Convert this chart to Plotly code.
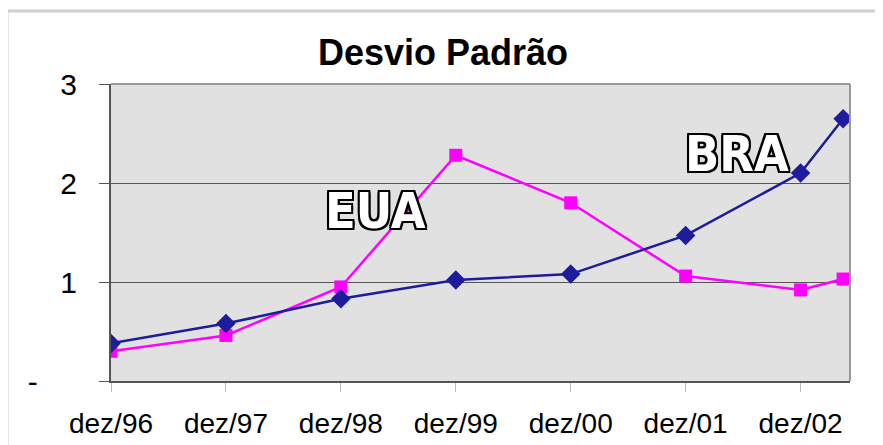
import plotly.graph_objects as go

categories = ["dez/96", "dez/97", "dez/98", "dez/99", "dez/00", "dez/01", "dez/02"]
x_positions = [0, 1, 2, 3, 4, 5, 6, 6.37]
bra_values = [0.38, 0.58, 0.83, 1.02, 1.08, 1.47, 2.10, 2.65]
eua_values = [0.30, 0.46, 0.95, 2.28, 1.80, 1.06, 0.92, 1.03]
y_tickvals = [0, 1, 2, 3]
y_ticktext = ["-" + "\u00a0" * 4 + "\u2009", "1", "2", "3"]

# page offset of the figure (browser default body margin)
OFF = 8
W, H = 883 - OFF, 445 - OFF
PL, PR, PT, PB = 111, 850, 84, 381  # plot area in page pixels

fig = go.Figure()
fig.add_trace(go.Scatter(
    x=x_positions, y=eua_values, mode="lines+markers", name="EUA",
    line=dict(color="#ff00ff", width=2.5),
    marker=dict(symbol="square", size=13, color="#ff00ff"),
))
fig.add_trace(go.Scatter(
    x=x_positions, y=bra_values, mode="lines+markers", name="BRA",
    line=dict(color="#1c1c9c", width=2.5),
    marker=dict(symbol="diamond", size=15, color="#1c1c9c"),
))

outline = ("2px 0 0 #000, -2px 0 0 #000, 0 2px 0 #000, 0 -2px 0 #000, "
           "2px 2px 0 #000, -2px -2px 0 #000, 2px -2px 0 #000, -2px 2px 0 #000")
for txt, ax, ay in [("EUA", 2.30, 1.72), ("BRA", 5.45, 2.29)]:
    fig.add_annotation(
        x=ax, y=ay, xref="x", yref="y", text=txt, showarrow=False,
        font=dict(family="DejaVu Sans Condensed, Liberation Sans", size=50, color="white",
                  weight="bold", shadow=outline),
    )

pw, ph = PR - PL, PB - PT
fig.update_layout(
    width=W, height=H,
    margin=dict(l=PL - OFF, r=W - (PR - OFF), t=PT - OFF, b=H - (PB - OFF), autoexpand=False),
    paper_bgcolor="white",
    plot_bgcolor="#e1e1e1",
    showlegend=False,
    title=dict(text="<b>Desvio Padrão</b>", x=(443 - OFF) / W, xref="container",
               xanchor="center", y=1 - (52 - OFF) / H, yref="container", yanchor="middle",
               font=dict(family="Liberation Sans", size=36, color="black")),
    font=dict(family="Liberation Sans", color="black"),
    shapes=[dict(type="rect", xref="paper", yref="paper",
                 x0=(7 - PL) / pw, x1=(900 - PL) / pw,
                 y0=(PB - 470) / ph, y1=(PB - 11) / ph,
                 line=dict(color="#d0d0d0", width=3), layer="below")],
)

fig.update_xaxes(
    range=[0, 6.43], tickvals=list(range(len(categories))), ticktext=categories,
    showgrid=False, zeroline=False,
    showline=True, linecolor="#555555", linewidth=2, mirror=False,
    ticks="outside", ticklen=9, tickcolor="#bbbbbb", tickwidth=1,
    tickfont=dict(size=28, color="black"), ticklabelstandoff=7,
)
fig.update_yaxes(
    range=[0, 3], tickvals=y_tickvals, ticktext=y_ticktext,
    showgrid=True, gridcolor="#555555", gridwidth=1, zeroline=False,
    showline=True, linecolor="#555555", linewidth=2,
    ticks="outside", ticklen=10, tickcolor="#555555", tickwidth=1,
    tickfont=dict(size=30, color="black"), ticklabelstandoff=16,
)
fig.add_shape(type="line", xref="paper", yref="paper", x0=1, x1=1, y0=0, y1=1,
              line=dict(color="#999999", width=2))
fig.add_shape(type="line", xref="paper", yref="paper", x0=0, x1=1, y0=1, y1=1,
              line=dict(color="#999999", width=2))

fig.write_html("out.html")
